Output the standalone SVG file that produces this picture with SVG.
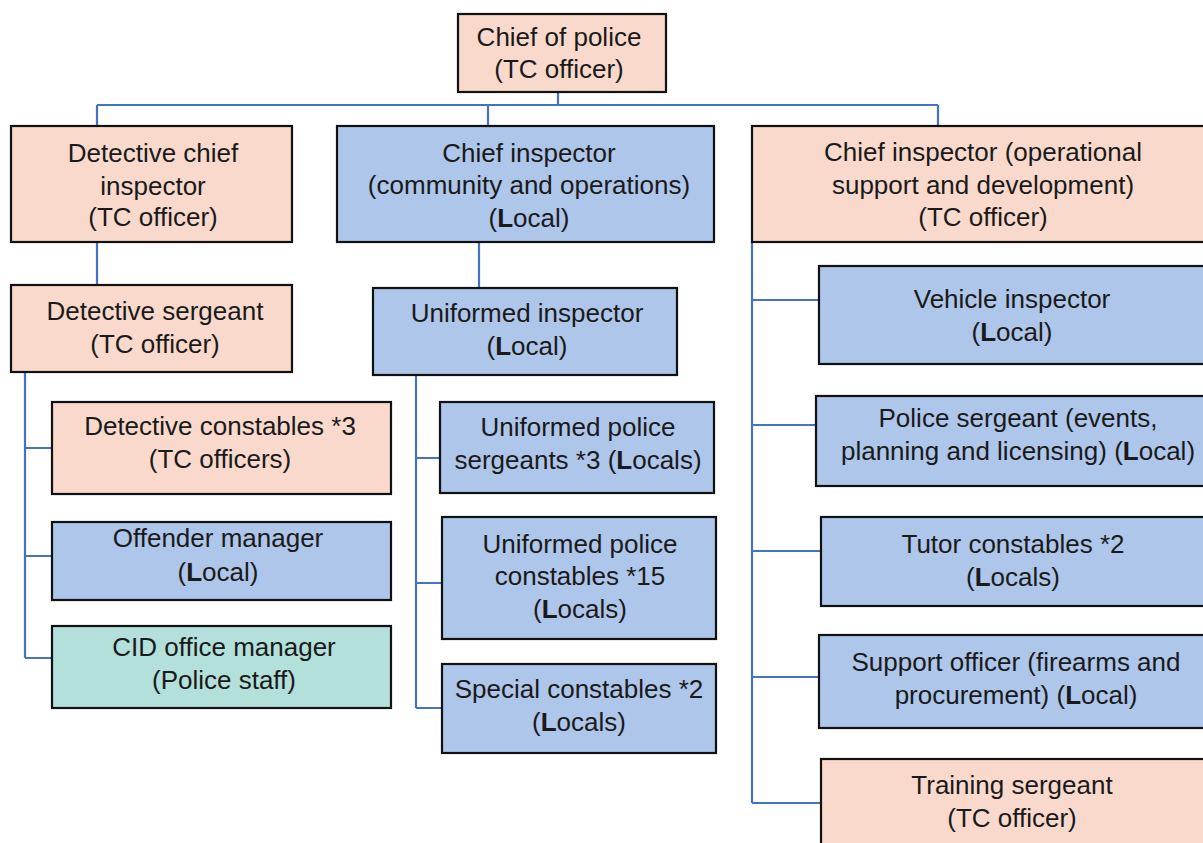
<svg xmlns="http://www.w3.org/2000/svg" width="1203" height="843" viewBox="0 0 1203 843">
<style>
.box{stroke:#111;stroke-width:2.2}
.tc{fill:#f8d9cc}
.lo{fill:#adc6ea}
.ps{fill:#b3e0da}
text{font-family:"Liberation Sans",Arial,sans-serif;font-size:26px;fill:#1a1a1a;text-anchor:middle}
.b{font-weight:bold}
#connectors path{fill:none;stroke:#4472c4;stroke-width:2.2}
</style>
<rect width="1203" height="843" fill="#fff"/>
<g id="connectors">
<path d="M558 92V105M97 105H938M97 105V126M488 105V126M938 105V126"/>
<path d="M97 242V285M479 242V288"/>
<path d="M25 372V658M25 448H52M25 556H52M25 658H52"/>
<path d="M416 375V708M416 458H440M416 583H442M416 708H442"/>
<path d="M752 242V803M752 300H819M752 425H816M752 551H821M752 677H819M752 803H821"/>
</g>
<g id="chief-of-police"><rect class="box tc" x="458" y="14" width="208" height="78"/><text x="559" y="46">Chief of police</text><text x="559" y="78">(TC officer)</text></g>
<g id="detective-chief-inspector"><rect class="box tc" x="11" y="126" width="281" height="116"/><text x="153" y="162">Detective chief</text><text x="153" y="195">inspector</text><text x="153" y="226">(TC officer)</text></g>
<g id="chief-inspector-community"><rect class="box lo" x="337" y="126" width="377" height="116"/><text x="529" y="162">Chief inspector</text><text x="529" y="194">(community and operations)</text><text x="529" y="227">(<tspan class="b">L</tspan>ocal)</text></g>
<g id="chief-inspector-operational"><rect class="box tc" x="752" y="126" width="470" height="116"/><text x="983" y="161">Chief inspector (operational</text><text x="983" y="194">support and development)</text><text x="983" y="226">(TC officer)</text></g>
<g id="detective-sergeant"><rect class="box tc" x="11" y="285" width="281" height="87"/><text x="155" y="320">Detective sergeant</text><text x="155" y="353">(TC officer)</text></g>
<g id="uniformed-inspector"><rect class="box lo" x="373" y="288" width="304" height="87"/><text x="527" y="322">Uniformed inspector</text><text x="527" y="355">(<tspan class="b">L</tspan>ocal)</text></g>
<g id="detective-constables"><rect class="box tc" x="52" y="402" width="339" height="92"/><text x="220" y="435">Detective constables *3</text><text x="220" y="468">(TC officers)</text></g>
<g id="offender-manager"><rect class="box lo" x="52" y="522" width="339" height="78"/><text x="218" y="547">Offender manager</text><text x="218" y="581">(<tspan class="b">L</tspan>ocal)</text></g>
<g id="cid-office-manager"><rect class="box ps" x="52" y="626" width="339" height="82"/><text x="224" y="656">CID office manager</text><text x="224" y="689">(Police staff)</text></g>
<g id="uniformed-police-sergeants"><rect class="box lo" x="440" y="402" width="274" height="91"/><text x="578" y="436">Uniformed police</text><text x="578" y="469">sergeants *3 (<tspan class="b">L</tspan>ocals)</text></g>
<g id="uniformed-police-constables"><rect class="box lo" x="442" y="517" width="274" height="122"/><text x="580" y="553">Uniformed police</text><text x="580" y="585">constables *15</text><text x="580" y="618">(<tspan class="b">L</tspan>ocals)</text></g>
<g id="special-constables"><rect class="box lo" x="442" y="664" width="274" height="89"/><text x="579" y="698">Special constables *2</text><text x="579" y="731">(<tspan class="b">L</tspan>ocals)</text></g>
<g id="vehicle-inspector"><rect class="box lo" x="819" y="266" width="400" height="98"/><text x="1012" y="308">Vehicle inspector</text><text x="1012" y="341">(<tspan class="b">L</tspan>ocal)</text></g>
<g id="police-sergeant"><rect class="box lo" x="816" y="396" width="405" height="90"/><text x="1018" y="427">Police sergeant (events,</text><text x="1018" y="460">planning and licensing) (<tspan class="b">L</tspan>ocal)</text></g>
<g id="tutor-constables"><rect class="box lo" x="821" y="517" width="400" height="89"/><text x="1013" y="553">Tutor constables *2</text><text x="1013" y="586">(<tspan class="b">L</tspan>ocals)</text></g>
<g id="support-officer"><rect class="box lo" x="819" y="635" width="400" height="93"/><text x="1016" y="671">Support officer (firearms and</text><text x="1016" y="704">procurement) (<tspan class="b">L</tspan>ocal)</text></g>
<g id="training-sergeant"><rect class="box tc" x="821" y="759" width="400" height="100"/><text x="1012" y="794">Training sergeant</text><text x="1012" y="827">(TC officer)</text></g>
</svg>
